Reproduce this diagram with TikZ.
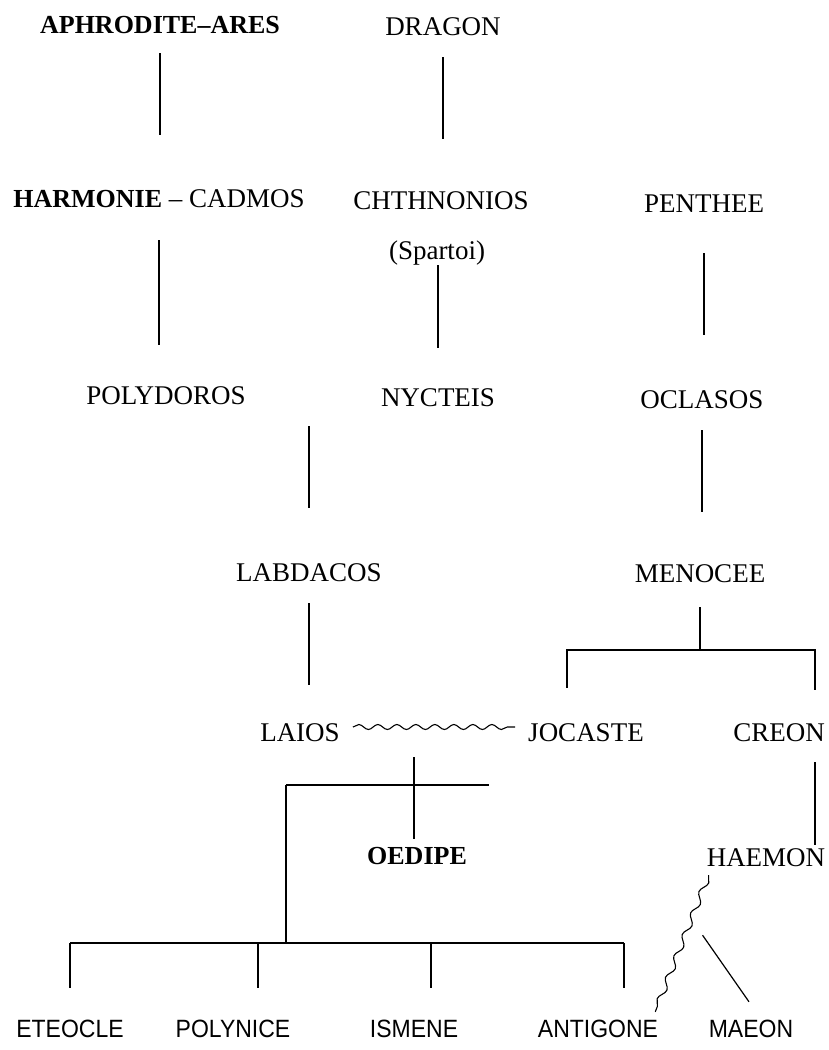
\documentclass[tikz,border=0pt]{standalone}
\usepackage{fontspec}
\setmainfont{Liberation Serif}
\newfontfamily\kidfont[FakeStretch=0.92]{Liberation Sans}
\usepackage{tikz}
\usetikzlibrary{calc}
\usetikzlibrary{decorations.pathmorphing}

\begin{document}
\begin{tikzpicture}[x=1pt, y=-1pt,
  who/.style={inner sep=0pt, text height=18pt, text depth=0pt, font=\fontsize{27}{30}\selectfont},
  hero/.style={who, font=\fontsize{26}{30}\selectfont\bfseries},
  kid/.style={inner sep=0pt, text height=18pt, text depth=0pt, font=\kidfont\fontsize{25}{28}\selectfont},
  stem/.style={line width=1.2pt},
  link/.style 2 args={stem, shorten <=#1pt, shorten >=#2pt},
  wed/.style={line width=1.1pt, decorate, decoration={snake, amplitude=2.5pt, segment length=19pt}}]
\useasboundingbox (0,0) rectangle (829,1050);

\node[hero] (aphares) at (160,24) {APHRODITE–ARES};
\node[who] (dragon) at (443,26) {DRAGON};
\node[who] (harmcad) at (159,198) {{\fontsize{26}{30}\selectfont\bfseries HARMONIE} – CADMOS};
\node[who] (chthonios) at (441,200) {CHTHNONIOS};
\node[who] (spartoi) at (437,250) {(Spartoi)};
\node[who] (penthee) at (704,203) {PENTHEE};
\node[who] (polydoros) at (166,395) {POLYDOROS};
\node[who] (nycteis) at (438,397) {NYCTEIS};
\node[who] (oclasos) at (702,399) {OCLASOS};
\node[who] (labdacos) at (309,572) {LABDACOS};
\node[who] (menocee) at (700,573) {MENOCEE};
\node[who] (laios) at (300,732) {LAIOS};
\node[who] (jocaste) at (586,732) {JOCASTE};
\node[who] (creon) at (779,732) {CREON};
\node[hero] (oedipe) at (417,855) {OEDIPE};
\node[who] (haemon) at (766,857) {HAEMON};
\foreach \n/\t/\x in {eteocle/ETEOCLE/70, polynice/POLYNICE/233, ismene/ISMENE/414, antigone/ANTIGONE/598, maeon/MAEON/751}
  \node[kid] (\n) at (\x,1028) {\t};

\draw[link={20}{54}] (aphares.south) -- (aphares.south |- harmcad.north);
\draw[link={22}{52}] (dragon.south) -- (dragon.south |- chthonios.north);
\draw[link={33}{41}] (harmcad.south) -- (harmcad.south |- polydoros.north);
\draw[link={6}{40}] (nycteis.north |- spartoi.south) -- (nycteis.north);
\draw[link={41}{55}] (penthee.south) -- (penthee.south |- oclasos.north);
\draw[link={20}{55}] (labdacos.north |- nycteis.south) -- (labdacos.north);
\draw[link={22}{52}] (oclasos.south) -- (oclasos.south |- menocee.north);
\draw[link={22}{38}] (labdacos.south) -- (labdacos.south |- laios.north);

\coordinate (sibl) at (567,650);
\coordinate (sibr) at (815,650);
\draw[link={25}{0}] (menocee.south) -- (menocee.south |- sibl);
\draw[link={35}{33}] (sibl |- jocaste.north) -- (sibl) -- (sibr) -- (sibr |- creon.north);
\draw[link={21}{3}] (sibr |- creon.south) -- (sibr |- haemon.north);

\draw[wed] ([xshift=13pt,yshift=5pt]laios.east) -- ([xshift=-13pt,yshift=5pt]jocaste.west);
\draw[link={25}{7}] ([xshift=-3pt]oedipe.north |- laios.east) -- ([xshift=-3pt]oedipe.north);

\coordinate (kidl) at (286,785);
\coordinate (kidr) at (489,785);
\coordinate (barl) at (70,943);
\coordinate (barr) at (624,943);
\draw[stem] (kidl) -- (kidr);
\draw[stem] (kidl) -- (kidl |- barl);
\draw[stem] (barl) -- (barr);
\foreach \n/\x in {eteocle/70, polynice/258, ismene/431, antigone/624}
  \draw[link={0}{31}] (\x,943) -- (\x,943 |- \n.north);

\draw[wed, decoration={amplitude=3pt, segment length=23pt}] ([shift={(2pt,-9pt)}]haemon.south west) -- ([shift={(-3pt,7pt)}]antigone.north east);
\draw[stem] ([shift={(-4pt,-69pt)}]haemon.south west) -- ([shift={(-2pt,17pt)}]maeon.north);
\end{tikzpicture}
\end{document}
